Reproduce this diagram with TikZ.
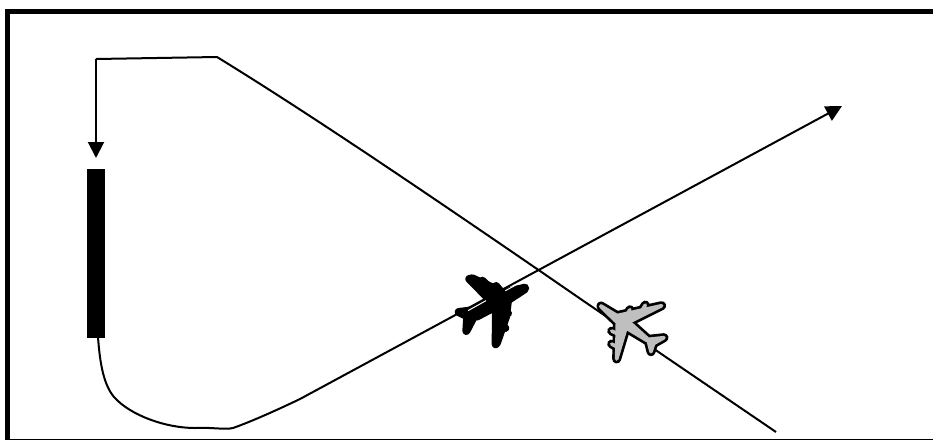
\documentclass[tikz,border=0pt]{standalone}
\usetikzlibrary{arrows.meta}
\tikzset{
  x=1pt,y=-1pt,
  route/.style={line width=2pt,black,line join=round},
  tipped/.style={route,-{Triangle[length=16pt,width=16pt]}},
  frameband/.style={fill=black,draw=none},
  partline/.style={line join=round,line cap=round}
}
\newcommand{\blackparts}[1]{%
 \path[partline,#1] (88,87)--(97,85)--(185,125)--(150,150)--cycle;
 \path[partline,#1] (167,283)--(171,278)--(198,200)--(204,150)--(168,150)--cycle;
 \path[partline,#1] (255,113)--(190,128)--(100,180)--(110,200)--(205,150)--(255,117)--cycle;
 \path[partline,#1] (56,186)--(105,180)--(90,203)--cycle;
 \path[partline,#1] (79,243)--(82,195)--(100,203)--cycle;
 \path[partline,#1] (127,92)--(140,105);
 \path[partline,#1] (168,108)--(178,120);
 \path[partline,#1] (204,190)--(190,180);
 \path[partline,#1] (196,234)--(182,225);
}
\newcommand{\grayparts}[1]{%
 \path[partline,#1] (230,62)--(95,92)--(115,125)--(138,108)--cycle;
 \path[partline,#1] (95,222)--(97,110)--(122,132)--cycle;
 \path[partline,#1] (48,63)--(140,118)--(192,165)--(185,166)--(125,130)--(92,108)--(48,65)--cycle;
 \path[partline,#1] (237,158)--(190,163)--(205,176)--cycle;
 \path[partline,#1] (198,200)--(190,168)--(206,175)--cycle;
 \path[partline,#1] (135,74)--(125,90);
 \path[partline,#1] (181,60)--(172,75);
 \path[partline,#1] (80,138)--(95,145);
 \path[partline,#1] (80,177)--(95,185);
}
\begin{document}
\begin{tikzpicture}
\useasboundingbox (0,0) rectangle (933,440);
% frame
\fill[frameband] (4.5,8.5) rectangle (933,14);
\fill[frameband] (4.5,8.5) rectangle (10,440);
\fill[frameband] (4.5,438.5) rectangle (933,440);
% runway
\node[frameband,minimum width=18.5pt,minimum height=168.5pt,inner sep=0pt,outer sep=0pt,anchor=north west] (runway) at (86.5,169) {};
% named points
\coordinate (turn) at (96,59);
\coordinate (corner) at (217,57);
\coordinate (end) at (776,432);
\coordinate (tip) at (842,106);
\coordinate (stop) at (96,158);
\coordinate (start) at (98,337);
% inbound path
\draw[route] (end) -- (585,302) -- (540,271) .. controls (400,175) and (300,108) .. (corner) -- (turn);
\draw[tipped] (turn) -- (stop);
% outbound path
\draw[tipped] (start) .. controls (100,365) and (104,385) .. (114,397)
  .. controls (130,415) and (165,428) .. (195,428)
  .. controls (210,427) and (225,430) .. (233,428)
  .. controls (250,422) and (275,411) .. (300,399) -- (tip);
% black plane
\begin{scope}[shift={(440,250)},scale=0.3333]
\blackparts{draw=black,fill=black,line width=8pt}
\draw[white,line width=1pt] (84,182) -- (138,152);
\draw[white,line width=1pt] (196,122) -- (226,106);
\end{scope}
% grey plane
\begin{scope}[shift={(585,285)},scale=0.3333]
\grayparts{draw=black,fill=black,line width=9pt}
\grayparts{draw=black!25,fill=black!25,line width=3.6pt}
\end{scope}
\end{tikzpicture}
\end{document}
